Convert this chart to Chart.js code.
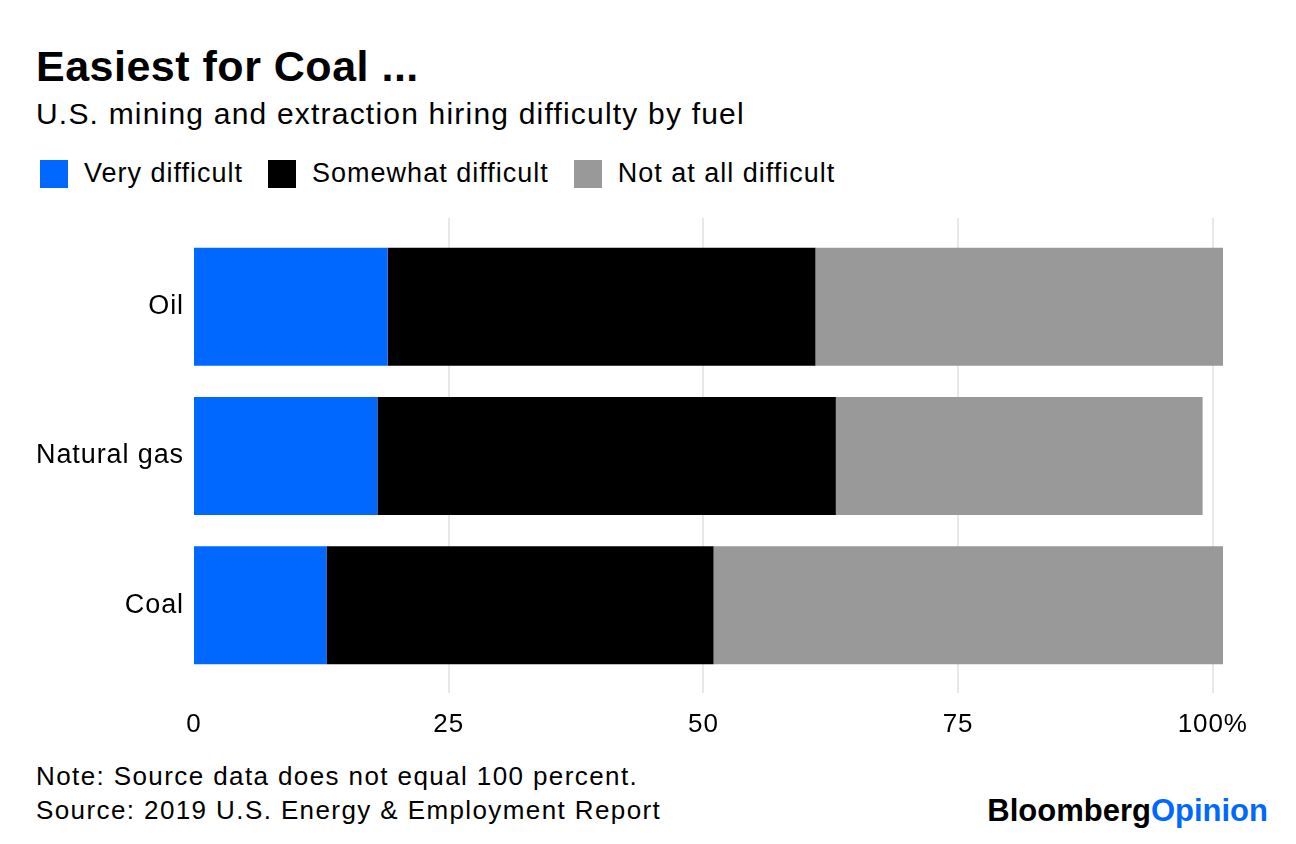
<!DOCTYPE html>
<html>
<head>
<meta charset="utf-8">
<script src="https://cdn.jsdelivr.net/npm/chart.js@4.4.1/dist/chart.umd.min.js"></script>
<style>
  html, body { margin: 0; padding: 0; background: #fff; }
  body { width: 1296px; height: 844px; position: relative; overflow: hidden; font-family: "Liberation Sans", Arial, sans-serif; color: #000; }
  .title { position: absolute; left: 36px; top: 42px; font-size: 43px; font-weight: bold; letter-spacing: 0.5px; }
  .subtitle { position: absolute; left: 36px; top: 97px; font-size: 30px; letter-spacing: 1.2px; }
  .legend { position: absolute; left: 40px; top: 158px; display: flex; align-items: center; font-size: 27px; letter-spacing: 1px; }
  .legend .item { display: flex; align-items: center; margin-right: 25px; }
  .legend .sw { width: 28px; height: 28px; margin-right: 16px; }
  .note { position: absolute; left: 36px; font-size: 26px; letter-spacing: 1.4px; }
  .logo { position: absolute; right: 28px; top: 793px; font-size: 31px; font-weight: bold; letter-spacing: 0; }
  .logo span { color: #0068ff; }
  #wrap { position: absolute; left: 0; top: 200px; width: 1296px; height: 545px; }
</style>
</head>
<body>
<div class="title">Easiest for Coal ...</div>
<div class="subtitle">U.S. mining and extraction hiring difficulty by fuel</div>
<div class="legend" id="legend"></div>
<div id="wrap"><canvas id="chart"></canvas></div>
<div class="note" style="top:761px">Note: Source data does not equal 100 percent.</div>
<div class="note" style="top:795px">Source: 2019 U.S. Energy &amp; Employment Report</div>
<div class="logo">Bloomberg<span>Opinion</span></div>
<script>
const categories = ["Oil", "Natural gas", "Coal"];
const seriesNames = ["Very difficult", "Somewhat difficult", "Not at all difficult"];
const veryDifficult = [19, 18, 13];
const somewhatDifficult = [42, 45, 38];
const notAtAllDifficult = [40, 36, 50];
const xTicks = [0, 25, 50, 75, 100];
const colors = ["#0068ff", "#000000", "#999999"];

const seriesValues = [veryDifficult, somewhatDifficult, notAtAllDifficult];

document.getElementById("legend").innerHTML = seriesNames
  .map((name, i) => `<div class="item"><div class="sw" style="background:${colors[i]}"></div>${name}</div>`)
  .join("");

// vertical gridlines that run a bit past the plot area, like the original
const gridPlugin = {
  id: "gridLines",
  beforeDraw(chart) {
    chart.ctx.letterSpacing = "0.9px";
  },
  beforeDatasetsDraw(chart) {
    const ctx = chart.ctx;
    const x = chart.scales.x;
    ctx.save();
    ctx.strokeStyle = "#e8e8e8";
    ctx.lineWidth = 2;
    xTicks.forEach((t) => {
      if (t === 0) return;
      const px = Math.round(x.getPixelForValue(t));
      ctx.beginPath();
      ctx.moveTo(px, chart.chartArea.top - 14);
      ctx.lineTo(px, chart.chartArea.bottom + 13);
      ctx.stroke();
    });
    ctx.restore();
  },
};

new Chart(document.getElementById("chart"), {
  type: "bar",
  data: {
    labels: categories,
    datasets: seriesNames.map((name, i) => ({
      label: name,
      data: seriesValues[i],
      backgroundColor: colors[i],
      borderWidth: 0,
      barPercentage: 0.79,
      categoryPercentage: 1,
    })),
  },
  options: {
    indexAxis: "y",
    responsive: true,
    maintainAspectRatio: false,
    animation: false,
    layout: { padding: { left: 0, right: 73, top: 32, bottom: 0 } },
    plugins: {
      legend: { display: false },
      tooltip: { enabled: false },
    },
    scales: {
      x: {
        stacked: true,
        min: 0,
        max: 101,
        afterBuildTicks: (axis) => {
          axis.ticks = xTicks.map((v) => ({ value: v }));
        },
        afterFit: (axis) => {
          axis.height = 65;
        },
        grid: { display: false, drawTicks: false },
        border: { display: false },
        ticks: {
          padding: 29,
          color: "#000",
          font: { family: "Liberation Sans", size: 26 },
          callback: (v) => (v === 100 ? "100%" : v),
        },
      },
      y: {
        stacked: true,
        afterFit: (axis) => {
          axis.width = 194;
        },
        grid: { display: false, drawTicks: false },
        border: { display: false },
        ticks: {
          padding: 10,
          color: "#000",
          font: { family: "Liberation Sans", size: 27 },
        },
      },
    },
  },
  plugins: [gridPlugin],
});
</script>
</body>
</html>
